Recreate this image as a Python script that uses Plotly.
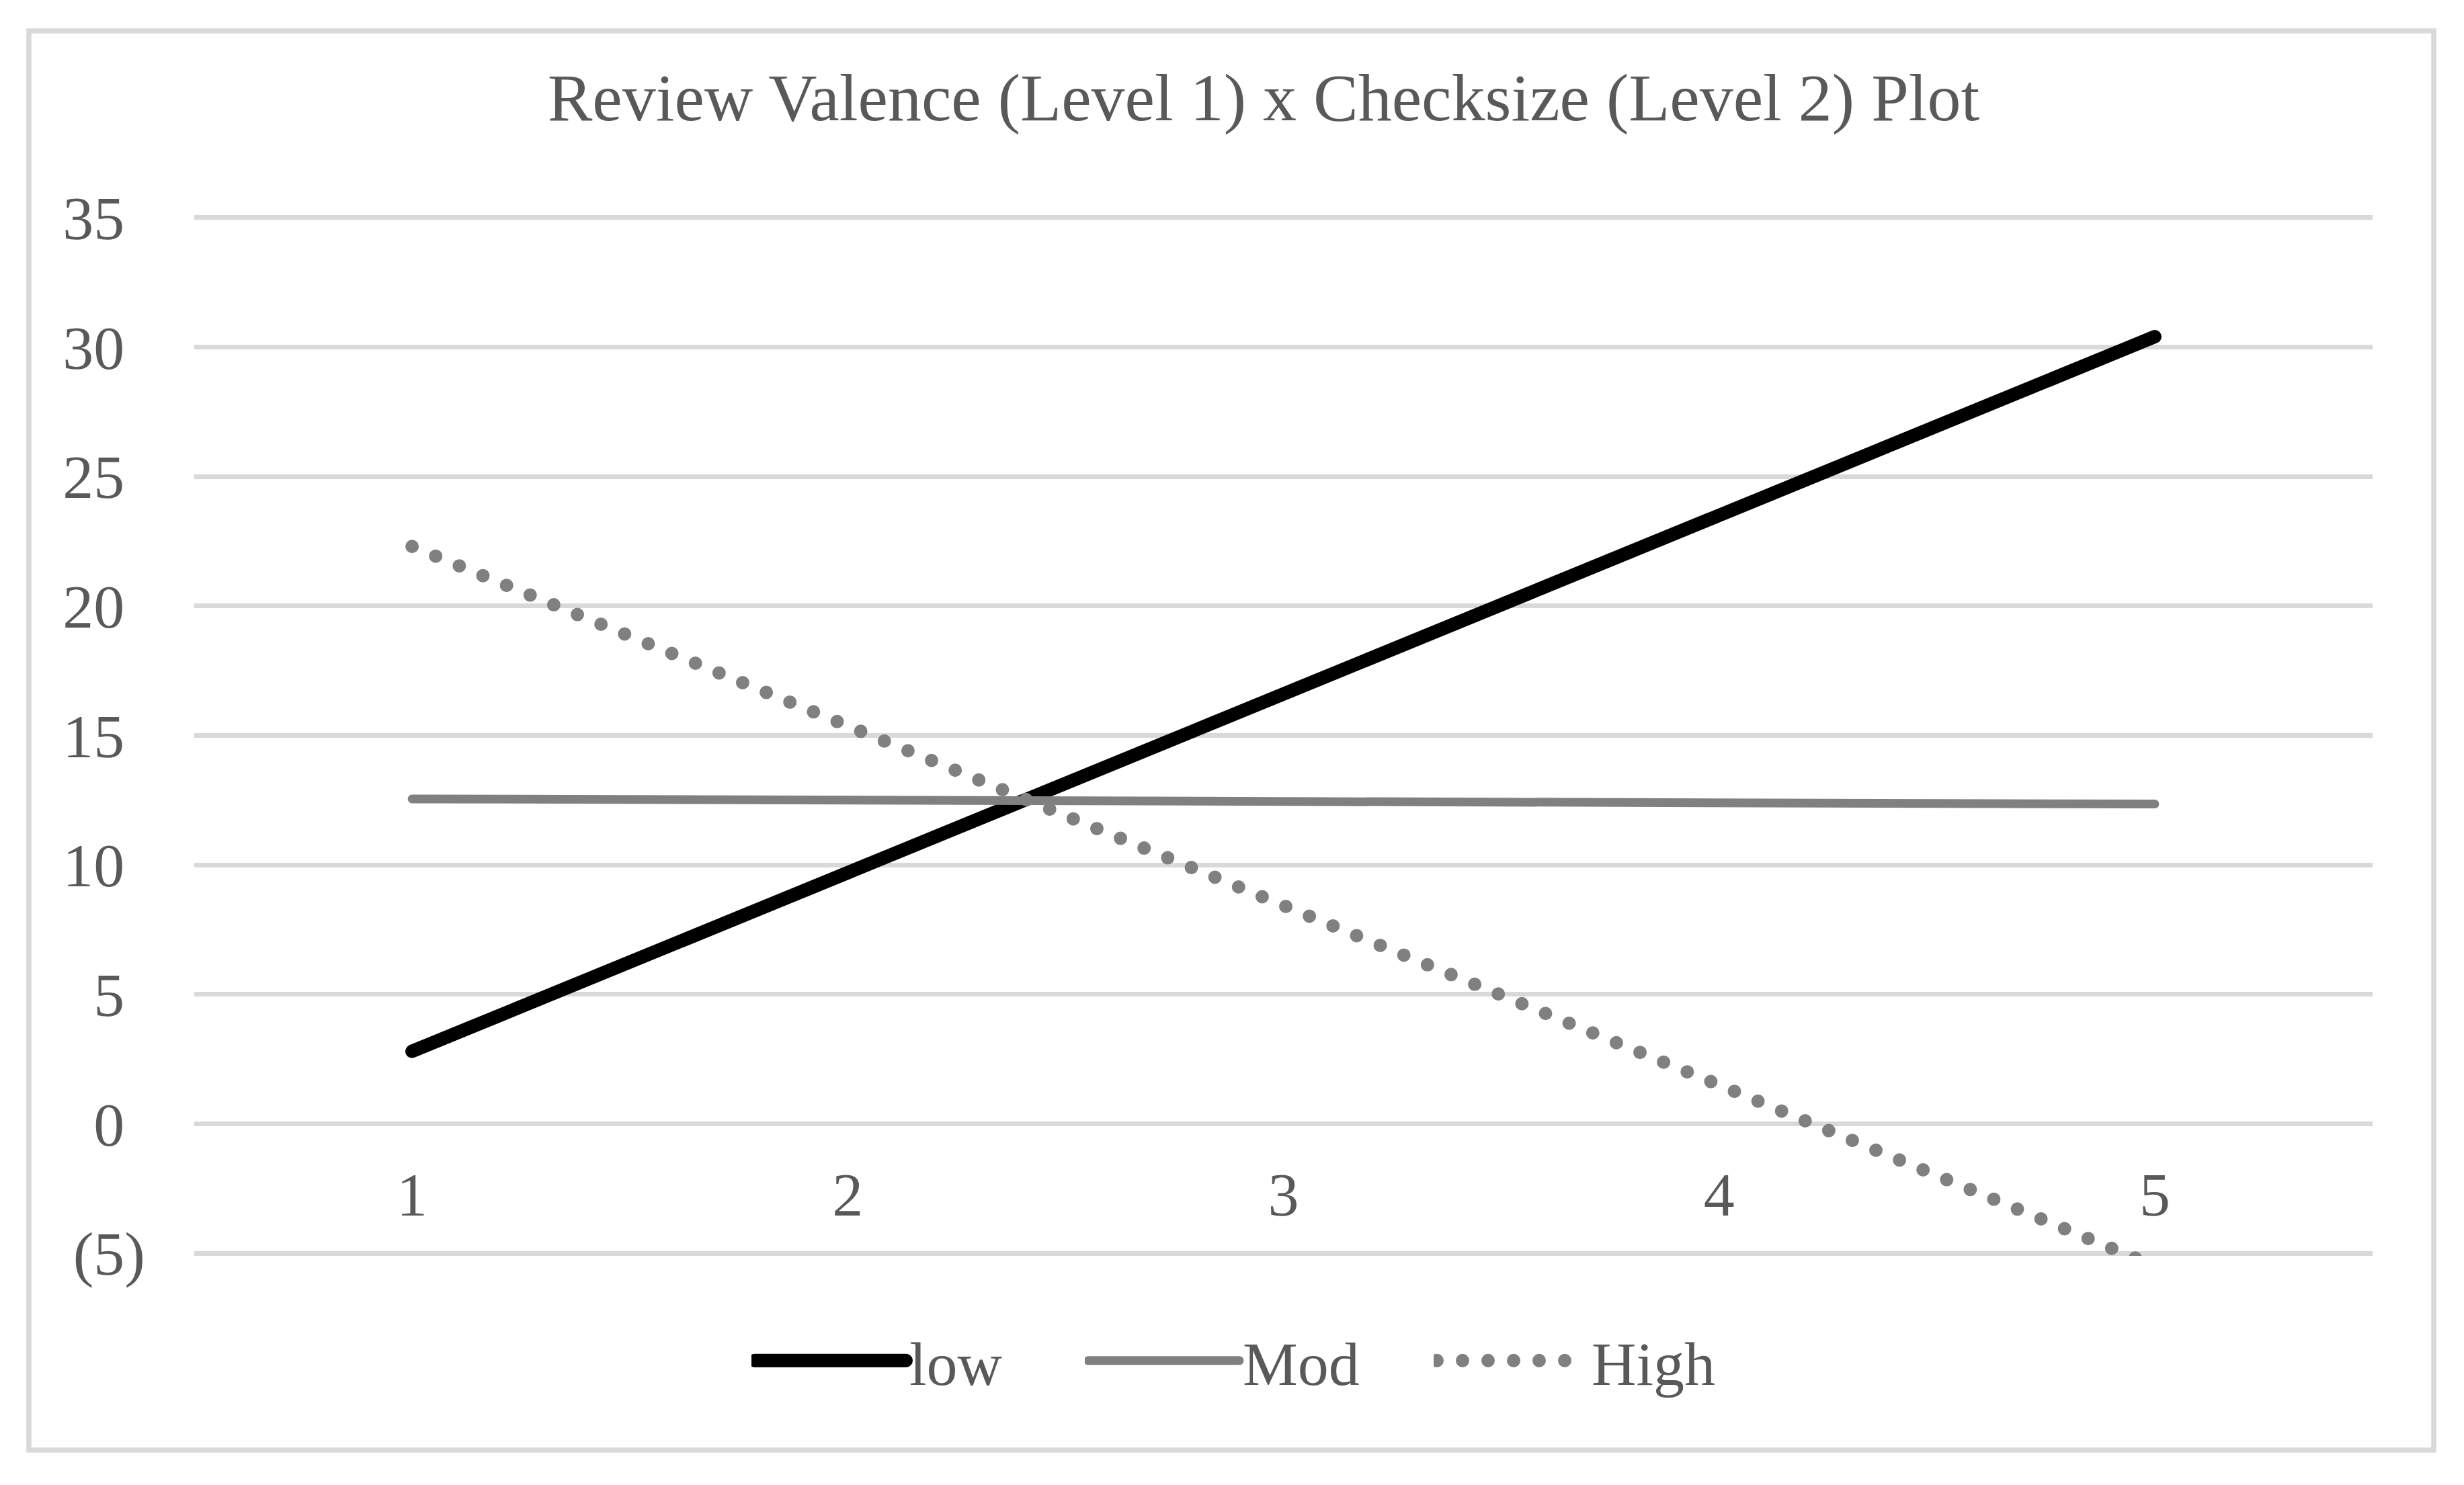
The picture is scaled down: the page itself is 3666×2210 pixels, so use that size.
import plotly.graph_objects as go

# ---- data ----
x_levels = [1, 2, 3, 4, 5]
low_vals = [2.8, 9.7, 16.6, 23.5, 30.4]
mod_vals = [12.55, 12.5, 12.45, 12.4, 12.35]
high_vals = [22.3, 15.4, 8.4, 1.5, -5.5]
series_names = ["low", "Mod", "High"]
y_tickvals = [-5, 0, 5, 10, 15, 20, 25, 30, 35]
y_ticktext = ["(5)"] + [f"{v}\u2004" for v in y_tickvals[1:]]
x_ticktext = ["1", "2", "3", "4", "5"]

W, H = 3666, 2210
FONT = "Liberation Serif, Times New Roman, serif"
TXT = "#595959"
GRID = "#D9D9D9"

# plot-area pixel box (a few px of padding so edge gridlines are drawn)
PL, PR, PT, PB = 289, 3530, 320, 1869
pw, ph = PR - PL, PB - PT
Y_RANGE = [-5.1, 35.1]

fig = go.Figure()
fig.add_trace(go.Scatter(x=x_levels, y=low_vals, name=series_names[0], mode="lines",
                         line=dict(color="#000000", width=20), legend="legend"))
fig.add_trace(go.Scatter(x=x_levels, y=mod_vals, name=series_names[1], mode="lines",
                         line=dict(color="#808080", width=13), legend="legend2"))
fig.add_trace(go.Scatter(x=x_levels, y=high_vals, name=series_names[2], mode="lines",
                         line=dict(color="#808080", width=20, dash="0px,38px"),
                         legend="legend3"))


def px_to_paper_x(p):
    return (p - PL) / pw


def px_to_paper_y(p):
    return (PB - p) / ph


# outer chart border
fig.add_shape(type="rect", xref="paper", yref="paper",
              x0=px_to_paper_x(43), x1=px_to_paper_x(3621),
              y0=px_to_paper_y(2158), y1=px_to_paper_y(46),
              line=dict(color=GRID, width=7.5), fillcolor="rgba(0,0,0,0)", layer="below")


def legend_at(left_px):
    return dict(orientation="h", xref="container", yref="container",
                x=left_px / W, xanchor="left", y=1 - 2025 / H, yanchor="middle",
                font=dict(family=FONT, size=92, color=TXT),
                itemwidth=225, bgcolor="rgba(0,0,0,0)")


fig.update_layout(
    width=W, height=H,
    margin=dict(l=PL, r=W - PR, t=PT, b=H - PB, autoexpand=False),
    paper_bgcolor="white", plot_bgcolor="white",
    font=dict(family=FONT, color=TXT, size=92),
    title=dict(text="Review Valence (Level 1) x Checksize (Level 2) Plot",
               font=dict(family=FONT, size=100, color=TXT),
               x=1880 / W, xanchor="center", xref="container",
               y=1 - 144 / H, yanchor="middle", yref="container"),
    showlegend=True,
    legend=legend_at(1118),
    legend2=legend_at(1614),
    legend3=legend_at(2133),
    xaxis=dict(range=[0.5, 5.5], tickvals=x_levels, ticktext=x_ticktext,
               showgrid=False, zeroline=False, showline=False, ticks="",
               anchor="free", position=(0 - Y_RANGE[0]) / (Y_RANGE[1] - Y_RANGE[0]),
               ticklabelstandoff=44,
               tickfont=dict(family=FONT, size=92, color=TXT)),
    yaxis=dict(range=Y_RANGE, tickvals=y_tickvals, ticktext=y_ticktext,
               showgrid=True, gridcolor=GRID, gridwidth=7, zeroline=False,
               showline=False, ticks="", ticklabelstandoff=72,
               tickfont=dict(family=FONT, size=92, color=TXT)),
)

post = """
document.documentElement.style.margin = '0';
document.body.style.margin = '0';
var gd = document.getElementById('{plot_id}');
function styleLines(){
  gd.querySelectorAll('path.js-line').forEach(function(p){
    p.style.strokeLinecap = 'round';
    p.style.strokeLinejoin = 'round';
  });
  gd.querySelectorAll('.legend .traces, [class^="legend"] .traces').forEach(function(g){
    var d = g.__data__;
    var tr = d && d[0] && d[0].trace;
    if(!tr || !tr.line) return;
    g.querySelectorAll('path.js-line').forEach(function(p){
      p.style.strokeWidth = tr.line.width + 'px';
    });
  });
}
styleLines();
gd.on('plotly_afterplot', styleLines);
"""

fig.write_html("out.html", post_script=post, config={"displayModeBar": False})
